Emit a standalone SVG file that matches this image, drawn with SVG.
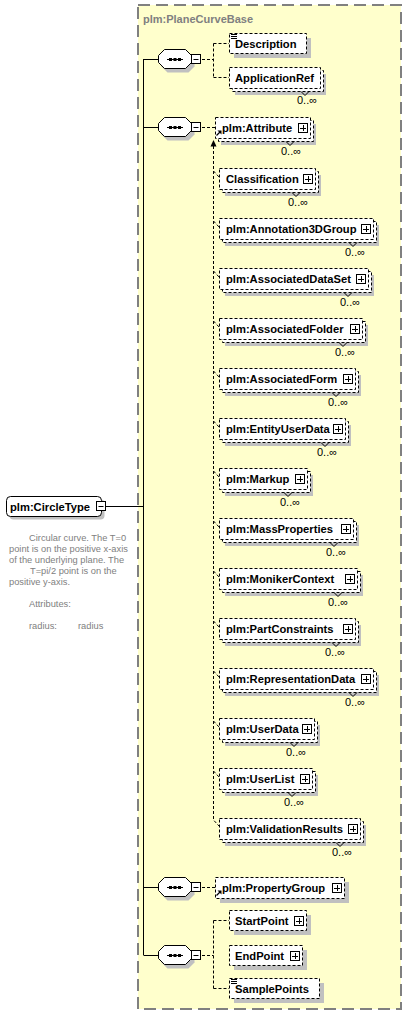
<svg xmlns="http://www.w3.org/2000/svg" xmlns:xlink="http://www.w3.org/1999/xlink" width="406" height="1015" viewBox="0 0 406 1015">
<style>
.bx{fill:#fff;stroke:#000;stroke-width:1;stroke-dasharray:3 2}
.sh{fill:#c0c0c0}
.lb{font-family:"Liberation Sans",Arial,sans-serif;font-weight:bold;font-size:11.2px;fill:#000}
.mu{font-family:"Liberation Sans",Arial,sans-serif;font-size:11px;fill:#000}
.an{font-family:"Liberation Sans",Arial,sans-serif;font-size:9.3px;fill:#808080}
.tt{font-family:"Liberation Sans",Arial,sans-serif;font-weight:bold;font-size:11px;fill:#808080}
.dc{fill:none;stroke:#000;stroke-width:1;stroke-dasharray:3 2}
.sc{fill:none;stroke:#000;stroke-width:1}
.v{fill:none;stroke:#000;stroke-width:1}
</style>
<defs>
<g id="plus"><rect x="0.5" y="0.5" width="9" height="9" fill="#fff" stroke="#000"/><path d="M2 5.5H8M5.5 2V8" stroke="#000"/></g>
<g id="seq">
<path d="M6.5 -9.5H27.5L33.5 -3.5V3.5L27.5 9.5H6.5L0.5 3.5V-3.5Z" transform="translate(3,4)" fill="#c0c0c0"/>
<path d="M6.5 -9.5H27.5L33.5 -3.5V3.5L27.5 9.5H6.5L0.5 3.5V-3.5Z" fill="#fff" stroke="#000"/>
<path d="M9 0.5H25" stroke="#000"/>
<rect x="11" y="-1" width="3" height="3" fill="#000"/><rect x="15.5" y="-1" width="3" height="3" fill="#000"/><rect x="20" y="-1" width="3" height="3" fill="#000"/>
<rect x="33.5" y="-4.5" width="9" height="9" fill="#fff" stroke="#000"/>
<path d="M35.5 0.5H40.5" stroke="#000"/>
</g>
<g id="icon"><path d="M2 1.5H8M2 3.5H8M2 5.5H8" stroke="#000"/></g>
<g id="ref"><path d="M1.5 7.5L5 4" stroke="#000" stroke-width="1.3"/><path d="M6.5 2.5V6.5L2.5 2.5Z" fill="#000"/></g>
</defs>

<rect x="138" y="5" width="263" height="1004" fill="#ffffcc" stroke="#808080" stroke-width="2" stroke-dasharray="12 6"/>
<text class="tt" x="143" y="23">plm:PlaneCurveBase</text>

<g id="connectors">
<path class="sc" d="M106 506.5H143.5M143.5 59V955M143.5 59.5H158M143.5 127.5H158M143.5 887.5H158M143.5 955.5H158"/>
<path class="dc" d="M202 59.5H213.5M213.5 43.5V77.5M213.5 43.5H229M213.5 77.5H229"/>
<path class="dc" d="M202 127.5H215"/>
<path class="dc" d="M202 887.5H215"/>
<path class="dc" d="M202 955.5H213.5M213.5 920.5V988.5M213.5 920.5H229M213.5 988.5H229"/>
<path class="dc" d="M213.5 146V820L219 826"/>
<path d="M213.5 140L210.5 146.5H216.5Z" fill="#000"/>
<path class="dc" d="M213.5 171L219 177M213.5 221L219 227M213.5 271L219 277M213.5 321L219 327M213.5 371L219 377M213.5 421L219 427M213.5 471L219 477M213.5 521L219 527M213.5 571L219 577M213.5 621L219 627M213.5 671L219 677M213.5 721L219 727M213.5 771L219 777"/>
</g>

<g id="seq1"><use href="#seq" x="158" y="59"/></g>
<g id="seq2"><use href="#seq" x="158" y="127"/></g>
<g id="seq3"><use href="#seq" x="158" y="887"/></g>
<g id="seq4"><use href="#seq" x="158" y="955"/></g>

<g id="CircleType">
<rect x="9.5" y="499.5" width="95" height="20" rx="4" fill="#c0c0c0"/>
<rect x="6.5" y="496.5" width="95" height="20" rx="4" fill="#fff" stroke="#000"/>
<text class="lb" x="10" y="510.5">plm:CircleType</text>
<rect x="96.5" y="501.5" width="9" height="9" fill="#fff" stroke="#000"/>
<path d="M98.5 506.5H103.5" stroke="#000"/>
<text class="an" x="29" y="541">Circular curve. The T=0</text>
<text class="an" x="9" y="552">point is on the positive x-axis</text>
<text class="an" x="9" y="563">of the underlying plane. The</text>
<text class="an" x="30" y="574">T=pi/2 point is on the</text>
<text class="an" x="9" y="585">positive y-axis.</text>
<text class="an" x="29" y="607">Attributes:</text>
<text class="an" x="29" y="629">radius:</text>
<text class="an" x="78" y="629">radius</text>
</g>

<g id="Description">
<rect class="sh" x="234" y="38" width="77" height="20"/>
<rect class="bx" x="229.5" y="33.5" width="77" height="20"/>
<use href="#icon" x="229" y="33"/>
<text class="lb" x="235" y="47.5">Description</text>
</g>

<g id="ApplicationRef">
<rect class="sh" x="235" y="74" width="91" height="21"/>
<rect class="bx" x="232.5" y="70.5" width="91" height="21"/>
<rect class="bx" x="229.5" y="67.5" width="91" height="21"/>
<path class="v" d="M301 91.5L305 95.5L309 91.5"/>
<text class="lb" x="235" y="81.5">ApplicationRef</text>
<text class="mu" x="297" y="104">0..∞</text>
</g>

<g id="Attribute">
<rect class="sh" x="221" y="124" width="95" height="21"/>
<rect class="bx" x="218.5" y="120.5" width="95" height="21"/>
<rect class="bx" x="215.5" y="117.5" width="95" height="21"/>
<use href="#ref" x="215" y="128"/>
<text class="lb" x="222" y="131.5">plm:Attribute</text>
<use href="#plus" x="298" y="123"/>
<path class="v" d="M286 141.5L290 145.5L294 141.5"/>
<text class="mu" x="281" y="155">0..∞</text>
</g>

<g id="Classification">
<rect class="sh" x="225" y="175" width="96" height="21"/>
<rect class="bx" x="222.5" y="171.5" width="96" height="21"/>
<rect class="bx" x="219.5" y="168.5" width="96" height="21"/>
<text class="lb" x="226" y="182.5">Classification</text>
<use href="#plus" x="303" y="174"/>
<path class="v" d="M292 192.5L296 196.5L300 192.5"/>
<text class="mu" x="288" y="206">0..∞</text>
</g>

<g id="Annotation3DGroup">
<rect class="sh" x="225" y="225" width="154" height="21"/>
<rect class="bx" x="222.5" y="221.5" width="154" height="21"/>
<rect class="bx" x="219.5" y="218.5" width="154" height="21"/>
<text class="lb" x="226" y="232.5">plm:Annotation3DGroup</text>
<use href="#plus" x="361" y="224"/>
<path class="v" d="M349 242.5L353 246.5L357 242.5"/>
<text class="mu" x="345" y="256">0..∞</text>
</g>

<g id="AssociatedDataSet">
<rect class="sh" x="225" y="275" width="149" height="21"/>
<rect class="bx" x="222.5" y="271.5" width="149" height="21"/>
<rect class="bx" x="219.5" y="268.5" width="149" height="21"/>
<text class="lb" x="226" y="282.5">plm:AssociatedDataSet</text>
<use href="#plus" x="356" y="274"/>
<path class="v" d="M344 292.5L348 296.5L352 292.5"/>
<text class="mu" x="340" y="306">0..∞</text>
</g>

<g id="AssociatedFolder">
<rect class="sh" x="225" y="325" width="143" height="21"/>
<rect class="bx" x="222.5" y="321.5" width="143" height="21"/>
<rect class="bx" x="219.5" y="318.5" width="143" height="21"/>
<text class="lb" x="226" y="332.5">plm:AssociatedFolder</text>
<use href="#plus" x="350" y="324"/>
<path class="v" d="M339 342.5L343 346.5L347 342.5"/>
<text class="mu" x="335" y="356">0..∞</text>
</g>

<g id="AssociatedForm">
<rect class="sh" x="225" y="375" width="136" height="21"/>
<rect class="bx" x="222.5" y="371.5" width="136" height="21"/>
<rect class="bx" x="219.5" y="368.5" width="136" height="21"/>
<text class="lb" x="226" y="382.5">plm:AssociatedForm</text>
<use href="#plus" x="343" y="374"/>
<path class="v" d="M332 392.5L336 396.5L340 392.5"/>
<text class="mu" x="328" y="406">0..∞</text>
</g>

<g id="EntityUserData">
<rect class="sh" x="225" y="425" width="126" height="21"/>
<rect class="bx" x="222.5" y="421.5" width="126" height="21"/>
<rect class="bx" x="219.5" y="418.5" width="126" height="21"/>
<text class="lb" x="226" y="432.5">plm:EntityUserData</text>
<use href="#plus" x="333" y="424"/>
<path class="v" d="M321 442.5L325 446.5L329 442.5"/>
<text class="mu" x="317" y="456">0..∞</text>
</g>

<g id="Markup">
<rect class="sh" x="225" y="475" width="88" height="21"/>
<rect class="bx" x="222.5" y="471.5" width="88" height="21"/>
<rect class="bx" x="219.5" y="468.5" width="88" height="21"/>
<text class="lb" x="226" y="482.5">plm:Markup</text>
<use href="#plus" x="295" y="474"/>
<path class="v" d="M284 492.5L288 496.5L292 492.5"/>
<text class="mu" x="280" y="506">0..∞</text>
</g>

<g id="MassProperties">
<rect class="sh" x="225" y="525" width="134" height="21"/>
<rect class="bx" x="222.5" y="521.5" width="134" height="21"/>
<rect class="bx" x="219.5" y="518.5" width="134" height="21"/>
<text class="lb" x="226" y="532.5">plm:MassProperties</text>
<use href="#plus" x="341" y="524"/>
<path class="v" d="M330 542.5L334 546.5L338 542.5"/>
<text class="mu" x="326" y="556">0..∞</text>
</g>

<g id="MonikerContext">
<rect class="sh" x="225" y="575" width="138" height="21"/>
<rect class="bx" x="222.5" y="571.5" width="138" height="21"/>
<rect class="bx" x="219.5" y="568.5" width="138" height="21"/>
<text class="lb" x="226" y="582.5">plm:MonikerContext</text>
<use href="#plus" x="345" y="574"/>
<path class="v" d="M334 592.5L338 596.5L342 592.5"/>
<text class="mu" x="328" y="606">0..∞</text>
</g>

<g id="PartConstraints">
<rect class="sh" x="225" y="625" width="136" height="21"/>
<rect class="bx" x="222.5" y="621.5" width="136" height="21"/>
<rect class="bx" x="219.5" y="618.5" width="136" height="21"/>
<text class="lb" x="226" y="632.5">plm:PartConstraints</text>
<use href="#plus" x="343" y="624"/>
<path class="v" d="M332 642.5L336 646.5L340 642.5"/>
<text class="mu" x="325" y="656">0..∞</text>
</g>

<g id="RepresentationData">
<rect class="sh" x="225" y="675" width="154" height="21"/>
<rect class="bx" x="222.5" y="671.5" width="154" height="21"/>
<rect class="bx" x="219.5" y="668.5" width="154" height="21"/>
<text class="lb" x="226" y="682.5">plm:RepresentationData</text>
<use href="#plus" x="361" y="674"/>
<path class="v" d="M349 692.5L353 696.5L357 692.5"/>
<text class="mu" x="345" y="706">0..∞</text>
</g>

<g id="UserData">
<rect class="sh" x="225" y="725" width="95" height="21"/>
<rect class="bx" x="222.5" y="721.5" width="95" height="21"/>
<rect class="bx" x="219.5" y="718.5" width="95" height="21"/>
<text class="lb" x="226" y="732.5">plm:UserData</text>
<use href="#plus" x="302" y="724"/>
<path class="v" d="M290 742.5L294 746.5L298 742.5"/>
<text class="mu" x="286" y="756">0..∞</text>
</g>

<g id="UserList">
<rect class="sh" x="225" y="775" width="93" height="21"/>
<rect class="bx" x="222.5" y="771.5" width="93" height="21"/>
<rect class="bx" x="219.5" y="768.5" width="93" height="21"/>
<text class="lb" x="226" y="782.5">plm:UserList</text>
<use href="#plus" x="300" y="774"/>
<path class="v" d="M288 792.5L292 796.5L296 792.5"/>
<text class="mu" x="284" y="806">0..∞</text>
</g>

<g id="ValidationResults">
<rect class="sh" x="225" y="825" width="141" height="21"/>
<rect class="bx" x="222.5" y="821.5" width="141" height="21"/>
<rect class="bx" x="219.5" y="818.5" width="141" height="21"/>
<text class="lb" x="226" y="832.5">plm:ValidationResults</text>
<use href="#plus" x="348" y="824"/>
<path class="v" d="M336 842.5L340 846.5L344 842.5"/>
<text class="mu" x="332" y="856">0..∞</text>
</g>

<g id="PropertyGroup">
<rect class="sh" x="220" y="882" width="129" height="21"/>
<rect class="bx" x="215.5" y="877.5" width="129" height="21"/>
<use href="#ref" x="215" y="888"/>
<text class="lb" x="222" y="891.5">plm:PropertyGroup</text>
<use href="#plus" x="332" y="883"/>
</g>

<g id="StartPoint">
<rect class="sh" x="234" y="915" width="77" height="20"/>
<rect class="bx" x="229.5" y="910.5" width="77" height="20"/>
<text class="lb" x="235" y="924.5">StartPoint</text>
<use href="#plus" x="294" y="916"/>
</g>

<g id="EndPoint">
<rect class="sh" x="234" y="950" width="73" height="20"/>
<rect class="bx" x="229.5" y="945.5" width="73" height="20"/>
<text class="lb" x="235" y="959.5">EndPoint</text>
<use href="#plus" x="290" y="951"/>
</g>

<g id="SamplePoints">
<rect class="sh" x="234" y="983" width="90" height="20"/>
<rect class="bx" x="229.5" y="978.5" width="90" height="20"/>
<use href="#icon" x="229" y="978"/>
<text class="lb" x="235" y="992.5">SamplePoints</text>
</g>
</svg>
